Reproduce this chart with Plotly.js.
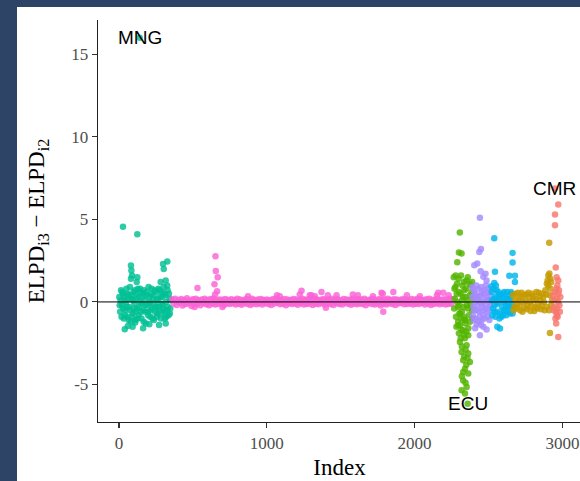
<!DOCTYPE html>
<html>
<head>
<meta charset="utf-8">
<script src="https://cdn.plot.ly/plotly-3.0.1.min.js"></script>
<style>
  html, body { margin: 0; padding: 0; width: 580px; height: 481px; overflow: hidden; background: #2d4466; }
  #chart { position: absolute; left: 17px; top: 7px; width: 564px; height: 474px; background: #ffffff; }
</style>
</head>
<body>
<div id="chart"></div>
<script>
// Pointwise ELPD difference (model i3 minus model i2), ordered by observation index,
// coloured by country.
const countries = ['MNG', 'Other', 'ECU', 'G4', 'G5', 'G6', 'CMR'];
const colors = ['#00C094', '#FB61D7', '#53B400', '#A58AFF', '#00B6EB', '#C49A00', '#F8766D'];

const mngIdx = [2,8,14,20,26,32,38,44,50,56,62,68,74,80,86,92,98,104,110,116,122,128,134,140,146,152,158,164,170,176,182,188,194,200,206,212,218,224,230,236,242,248,254,260,266,272,278,284,290,296,302,308,314,320,326,332,338,344,350,
  5,11,17,23,29,35,41,47,53,59,65,71,77,83,89,95,101,107,113,119,125,131,137,143,149,155,161,167,173,179,185,191,197,203,209,215,221,227,233,239,245,251,257,263,269,275,281,287,293,299,305,311,317,323,329,335,341,347,
  27,124,140,81,84,81,88,124,120,298,327,303,282,316,39,92,163,271,316,60,205,110];
const mngVal = [0.3,-0.6,0.7,-0.2,0.5,-1.0,0.1,-0.5,0.8,-0.9,0.4,-0.3,0.9,-1.2,0.2,-0.7,0.6,-0.1,-1.1,0.5,-0.4,0.8,-0.8,0.0,0.6,-1.0,0.3,-0.5,0.7,-0.2,-1.3,0.4,-0.6,0.9,-0.1,-0.9,0.5,-0.4,0.2,-1.1,0.7,-0.3,0.1,-0.7,0.8,-0.5,0.3,-1.0,0.6,-0.2,0.9,-0.6,0.4,-0.9,1.0,-0.3,0.5,-0.7,0.1,
  -0.2,0.1,-0.9,0.6,-0.4,0.3,-0.8,0.0,-0.3,0.5,-1.1,0.2,-0.5,0.4,-0.9,0.1,-0.4,0.7,-0.6,0.2,-1.0,0.3,-0.3,0.8,-0.6,-0.1,0.5,-1.2,0.1,-0.6,0.6,-0.2,-0.8,0.3,0.0,-0.5,0.8,-1.0,0.4,-0.2,-0.6,0.6,-0.9,0.2,-0.3,0.7,-0.1,-0.7,0.3,-0.4,0.5,-1.0,0.0,-0.5,0.7,-0.8,0.2,-0.4,
  4.55,4.1,16.0,2.2,1.9,1.4,1.6,1.5,1.2,2.3,2.45,2.0,1.2,1.3,-1.65,-1.5,-1.6,-1.4,-1.3,-1.45,-1.35,-1.25];

const otherIdx = [360,380,400,420,440,460,480,500,520,540,560,580,600,620,640,660,680,700,720,740,760,780,800,820,840,860,880,900,920,940,960,980,1000,1020,1040,1060,1080,1100,1120,1140,1160,1180,1200,1220,1240,1260,1280,1300,1320,1340,1360,1380,1400,1420,1440,1460,1480,1500,1520,1540,1560,1580,1600,1620,1640,1660,1680,1700,1720,1740,1760,1780,1800,1820,1840,1860,1880,1900,1920,1940,1960,1980,2000,2020,2040,2060,2080,2100,2120,2140,2160,2180,2200,2220,2240,2260,
  370,390,410,430,450,470,490,510,530,550,570,590,610,630,650,670,690,710,730,750,770,790,810,830,850,870,890,910,930,950,970,990,1010,1030,1050,1070,1090,1110,1130,1150,1170,1190,1210,1230,1250,1270,1290,1310,1330,1350,1370,1390,1410,1430,1450,1470,1490,1510,1530,1550,1570,1590,1610,1630,1650,1670,1690,1710,1730,1750,1770,1790,1810,1830,1850,1870,1890,1910,1930,1950,1970,1990,2010,2030,2050,2070,2090,2110,2130,2150,2170,2190,2210,2230,2250,
  531,653,655,668,646,664,650,1235,1302,1370,1472,1776,1856,2160,2194,1788,512,873,1069,1088,1223,1291,1325,1413,1582,1616,1718,1785,1948,2036,2151,2230,700,1400];
const otherVal = [0.15,0.2,0.1,0.18,0.12,0.22,0.08,0.16,0.2,0.1,0.14,0.19,0.12,0.17,0.21,0.09,0.15,0.13,0.18,0.11,0.16,0.12,0.19,0.14,0.1,0.17,0.13,0.2,0.11,0.15,0.18,0.12,0.14,0.1,0.16,0.19,0.13,0.11,0.17,0.14,0.12,0.18,0.15,0.1,0.2,0.13,0.16,0.12,0.19,0.14,0.11,0.17,0.13,0.15,0.2,0.12,0.16,0.1,0.18,0.14,0.13,0.19,0.11,0.16,0.14,0.2,0.12,0.15,0.18,0.1,0.17,0.13,0.15,0.19,0.11,0.16,0.14,0.12,0.18,0.15,0.1,0.17,0.13,0.2,0.14,0.11,0.16,0.19,0.12,0.15,0.18,0.13,0.16,0.12,0.2,0.14,
  -0.1,-0.18,-0.05,-0.22,-0.12,-0.08,-0.25,-0.15,-0.1,-0.2,-0.06,-0.14,-0.2,-0.09,-0.16,-0.12,-0.05,-0.18,-0.1,-0.13,-0.08,-0.15,-0.11,-0.17,-0.06,-0.12,-0.19,-0.09,-0.14,-0.1,-0.16,-0.07,-0.12,-0.18,-0.1,-0.05,-0.14,-0.11,-0.2,-0.08,-0.13,-0.1,-0.17,-0.06,-0.15,-0.12,-0.09,-0.18,-0.11,-0.14,-0.07,-0.16,-0.1,-0.13,-0.19,-0.08,-0.12,-0.15,-0.06,-0.11,-0.17,-0.09,-0.14,-0.1,-0.12,-0.2,-0.07,-0.13,-0.16,-0.09,-0.22,-0.11,-0.15,-0.08,-0.13,-0.18,-0.1,-0.06,-0.14,-0.12,-0.09,-0.16,-0.11,-0.13,-0.07,-0.15,-0.1,-0.18,-0.12,-0.08,-0.14,-0.1,-0.16,-0.12,-0.09,
  0.85,2.77,1.88,1.5,1.07,0.65,0.45,0.67,0.4,0.6,0.4,0.55,0.6,0.55,0.55,-0.6,-0.3,0.35,0.4,0.35,0.45,0.4,0.35,0.4,0.45,0.4,0.35,0.5,0.4,0.35,0.4,0.4,-0.3,-0.35];

const ecuIdx = [2306,2300,2318,2289,
  2265,2272,2280,2287,2294,2300,2307,2314,2320,2327,2334,2340,2347,2354,2360,2367,2374,2381,2388,2395,
  2268,2276,2283,2290,2297,2304,2311,2317,2324,2331,2337,2344,2351,2357,2364,2371,2378,2385,2392,
  2270,2285,2300,2315,2330,2345,2360,2375,2390,2278,2295,2322,2350,
  2307,2341,2295,2329,2363,2307,2352,2318,2363,2329,2374,2341,2329,2363,2329,2352,2318,2341,2359,
  2300,2340,2320,2345,2335,2350,2320,2345,2335,2312,2358];
const ecuVal = [4.2,3.0,2.93,2.4,
  1.5,0.2,-0.9,1.1,-0.3,0.6,-1.4,1.6,-0.6,0.3,1.2,-1.1,0.8,-0.2,1.5,-0.8,0.4,1.0,-0.5,0.2,
  -0.4,0.9,-1.5,0.0,1.4,-0.7,0.5,-1.7,1.0,-0.3,0.7,-1.3,1.3,0.1,-1.6,1.1,-0.2,0.6,-1.0,
  0.8,0.5,-0.2,-1.0,-0.9,0.3,-0.4,-1.2,1.2,1.6,-1.2,0.1,-1.8,
  -0.7,-1.1,-1.41,-1.72,-2.02,-2.42,-2.62,-3.03,-3.13,-3.53,-3.64,-4.04,-4.24,-4.34,-4.75,-5.15,-5.35,-5.55,-6.16,
  -1.9,-2.2,-2.7,-2.9,-3.3,-3.8,-4.5,-4.9,-2.0,-2.2,-3.4];

const g4Idx = [2442,2449,2438,2424,2404,2447,2465,2487,2480,
  2390,2398,2406,2414,2422,2430,2438,2446,2454,2462,2470,2478,2486,2494,2502,2510,
  2394,2402,2410,2418,2426,2434,2442,2450,2458,2466,2474,2482,2490,2498,2506,2514,
  2392,2400,2408,2416,2424,2432,2440,2448,2456,2464,2472,2480,2488,2496,2504,2512,
  2442,2410,2450,2487,2465,2420];
const g4Val = [5.1,3.2,3.03,2.33,2.22,1.86,1.52,1.3,1.7,
  0.9,-0.3,0.5,-1.0,0.2,0.8,-0.6,0.4,-1.1,0.0,0.7,-0.4,0.3,-0.9,0.6,-0.2,
  -0.8,0.7,0.0,1.0,-0.5,-1.2,0.3,0.9,-0.3,-0.8,0.5,1.0,-0.6,0.1,-1.1,0.4,
  0.3,-1.1,-0.5,0.4,-0.2,0.1,-0.9,-0.1,0.6,-0.5,-1.0,0.1,-0.2,0.8,-0.5,0.0,
  -2.02,-1.6,-1.4,-1.67,-1.5,-1.35];

const g5Idx = [2539,2663,2544,2663,2641,2679,2679,2539,2560,2578,2663,2520,2550,
  2522,2530,2538,2546,2554,2562,2570,2578,2586,2594,2602,2610,2618,2626,2634,2642,2650,2658,
  2526,2534,2542,2550,2558,2566,2574,2582,2590,2598,2606,2614,2622,2630,2638,2646,2654,2662,
  2524,2540,2556,2572,2588,2604,2620,2636,2652];
const g5Val = [3.86,2.97,1.82,2.39,1.58,1.58,1.21,1.15,-1.5,-1.61,-0.7,0.95,1.0,
  0.6,-0.4,0.2,-0.9,0.7,-0.1,0.4,-0.7,0.1,0.5,-0.5,0.3,-0.2,0.6,-0.6,0.2,-0.3,0.5,
  -0.8,0.8,-0.2,0.3,-0.6,0.6,-1.0,0.4,-0.3,-0.8,0.6,-0.5,0.2,-0.1,0.4,-0.7,0.1,-0.2,
  0.1,-0.6,0.0,0.2,-0.9,0.0,-0.8,-0.3,0.6];

const g6Idx = [2665,2675,2685,2695,2705,2715,2725,2735,2745,2755,2765,2775,2785,2795,2805,2815,2825,2835,2845,2855,2865,2875,2885,2895,2905,2915,2925,
  2670,2680,2690,2700,2710,2720,2730,2740,2750,2760,2770,2780,2790,2800,2810,2820,2830,2840,2850,2860,2870,2880,2890,2900,2910,2920,2930,
  2905,2912,2918,2911,2916,2895,2925];
const g6Val = [0.4,-0.3,0.5,-0.1,0.2,-0.5,0.55,0.0,-0.35,0.45,-0.2,0.3,-0.55,0.5,0.1,-0.3,0.6,-0.1,0.35,-0.45,0.5,0.0,0.7,-0.3,1.0,0.4,-0.2,
  -0.5,0.1,-0.4,0.55,-0.2,0.25,-0.6,0.4,0.05,-0.45,0.55,0.0,-0.25,0.35,-0.55,0.2,-0.4,0.55,0.1,-0.25,0.3,-0.5,0.45,1.3,-0.5,0.8,0.1,
  1.6,1.72,1.4,3.58,-1.88,1.1,1.2];

const cmrIdx = [2950,2972,2950,2950,2955,2961,2972,2972,
  2938,2944,2950,2956,2962,2968,2974,2980,2986,2941,2947,2953,2959,2965,2971,2977,2983,2958,2966,2962];
const cmrVal = [6.87,5.9,5.3,4.65,2.08,1.5,1.3,-2.12,
  0.4,-0.3,0.6,-0.6,0.2,-0.9,0.5,-0.2,0.3,-0.5,0.1,-1.0,0.8,-0.4,0.0,0.7,-0.6,-1.3,1.0,-0.8];

const xTicks = [0, 1000, 2000, 3000];
const yTicks = [-5, 0, 5, 10, 15];
const yTickText = ['-5', '0', '5', '10', '15'];

const groups = [
  [mngIdx, mngVal], [otherIdx, otherVal], [ecuIdx, ecuVal], [g4Idx, g4Val],
  [g5Idx, g5Val], [g6Idx, g6Val], [cmrIdx, cmrVal]
];

const traces = groups.map(([x, y], i) => ({
  type: 'scatter', mode: 'markers', x: x, y: y, name: countries[i],
  marker: { color: colors[i], size: 6.5, opacity: 0.82, line: { width: 0 } },
  hoverinfo: 'x+y+name'
}));

// Country labels sit on each country's most extreme point
function extremePoint(x, y, useMax) {
  let k = 0;
  for (let i = 1; i < y.length; i++) {
    if (useMax ? y[i] > y[k] : y[i] < y[k]) k = i;
  }
  return [x[k], y[k]];
}
const labelFont = { family: 'Liberation Sans, Arial, sans-serif', size: 19, color: '#000000' };
const labels = [
  ['MNG', extremePoint(mngIdx, mngVal, true)],
  ['CMR', extremePoint(cmrIdx, cmrVal, true)],
  ['ECU', extremePoint(ecuIdx, ecuVal, false)]
].map(([txt, p]) => ({
  x: p[0], y: p[1], xref: 'x', yref: 'y', text: txt, showarrow: false,
  xanchor: 'center', yanchor: 'middle', font: labelFont
}));

const serif = 'Liberation Serif, Times New Roman, serif';
const layout = {
  width: 564, height: 474,
  margin: { l: 81.3, r: 0, t: 13, b: 59.3 },
  paper_bgcolor: '#ffffff', plot_bgcolor: '#ffffff',
  showlegend: false,
  xaxis: {
    range: [-142, 3126], tickvals: xTicks, ticktext: xTicks.map(String),
    ticks: 'outside', ticklen: 5, tickwidth: 1.1, tickcolor: '#333333',
    showline: true, linecolor: '#222222', linewidth: 1.3,
    showgrid: false, zeroline: false,
    tickfont: { family: serif, size: 17, color: '#4d4d4d' },
    title: { text: 'Index', font: { family: serif, size: 23, color: '#000000' }, standoff: 7 }
  },
  yaxis: {
    range: [-7.27, 17.07], tickvals: yTicks, ticktext: yTickText,
    ticks: 'outside', ticklen: 5, tickwidth: 1.1, tickcolor: '#333333',
    showline: true, linecolor: '#222222', linewidth: 1.3,
    showgrid: false, zeroline: false,
    tickfont: { family: serif, size: 17, color: '#4d4d4d' },
    title: { text: 'ELPD<sub>i3</sub> \u2212 ELPD<sub>i2</sub>', font: { family: serif, size: 23, color: '#000000' }, standoff: 20 }
  },
  shapes: [{
    type: 'line', xref: 'paper', x0: 0, x1: 1, yref: 'y', y0: 0, y1: 0,
    line: { color: '#000000', width: 1 }, layer: 'above'
  }],
  annotations: labels
};

Plotly.newPlot('chart', traces, layout, { staticPlot: true, displayModeBar: false });
</script>
</body>
</html>
